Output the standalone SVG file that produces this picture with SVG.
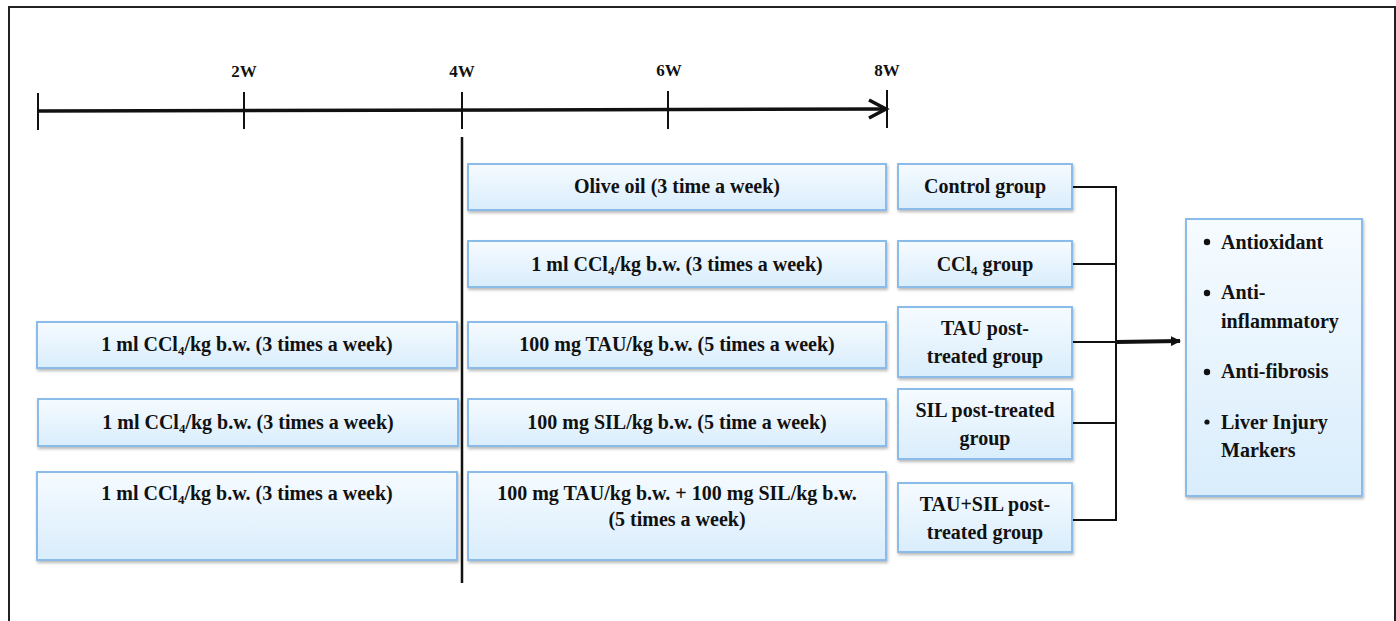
<svg xmlns="http://www.w3.org/2000/svg" width="1396" height="621" viewBox="0 0 1396 621">
<defs>
<linearGradient id="bf" x1="0" y1="0" x2="0" y2="1">
<stop offset="0" stop-color="#f6fbff"/>
<stop offset="1" stop-color="#d9edfc"/>
</linearGradient>
<filter id="sh" x="-5%" y="-10%" width="110%" height="130%">
<feDropShadow dx="1" dy="2" stdDeviation="1.5" flood-color="#000" flood-opacity="0.28"/>
</filter>
<marker id="ah" markerWidth="10" markerHeight="10" refX="9" refY="5" orient="auto" markerUnits="userSpaceOnUse">
<path d="M0,0 L10,5 L0,10 Z" fill="#111"/>
</marker>
</defs>
<style>
.box{fill:url(#bf);stroke:#8bbbe8;stroke-width:2;filter:url(#sh)}
text{font-family:'Liberation Serif','Times New Roman',Times,serif;font-weight:bold;fill:#111}
.t{font-size:20px;text-anchor:middle}
.tl{font-size:20px}
.wk{font-size:17px;text-anchor:middle}
.ln{stroke:#111;fill:none}
.sub{font-size:13px}
</style>
<rect x="0" y="0" width="1396" height="621" fill="#fff"/>
<rect x="9" y="7" width="1386" height="650" fill="none" stroke="#222" stroke-width="2"/>

<g id="timeline">
<line class="ln" x1="38" y1="111" x2="885" y2="109" stroke-width="3.5"/>
<polyline class="ln" points="869,100 886,109 869,118" stroke-width="3.5" stroke-linejoin="miter"/>
<line class="ln" x1="38" y1="93" x2="38" y2="130" stroke-width="2"/>
<line class="ln" x1="244" y1="92" x2="244" y2="129" stroke-width="2"/>
<line class="ln" x1="462" y1="92" x2="462" y2="129" stroke-width="2"/>
<line class="ln" x1="668" y1="91" x2="668" y2="129" stroke-width="2"/>
<line class="ln" x1="887" y1="90" x2="887" y2="128" stroke-width="2"/>
<text class="wk" x="244" y="77">2W</text>
<text class="wk" x="462" y="77">4W</text>
<text class="wk" x="669" y="76">6W</text>
<text class="wk" x="887" y="76">8W</text>
<line class="ln" x1="462" y1="137" x2="462" y2="583" stroke-width="2.5"/>
</g>

<g id="connectors">
<polyline class="ln" points="1072,187 1116,187 1116,520 1072,520" stroke-width="2"/>
<line class="ln" x1="1072" y1="264" x2="1116" y2="264" stroke-width="2"/>
<line class="ln" x1="1072" y1="342" x2="1116" y2="342" stroke-width="2"/>
<line class="ln" x1="1072" y1="423" x2="1116" y2="423" stroke-width="2"/>
<line class="ln" x1="1116" y1="342" x2="1180" y2="341" stroke-width="4" marker-end="url(#ah)"/>
</g>

<g id="olive">
<rect class="box" x="468" y="164" width="418" height="46"/>
<text class="t" x="677" y="193">Olive oil (3 time a week)</text>
</g>
<g id="ccl4-mid">
<rect class="box" x="468" y="241" width="418" height="46"/>
<text class="t" x="677" y="271">1 ml CCl<tspan class="sub" dy="4">4</tspan><tspan dy="-4">/kg b.w. (3 times a week)</tspan></text>
</g>
<g id="tau-mid">
<rect class="box" x="468" y="322" width="418" height="46"/>
<text class="t" x="677" y="351">100 mg TAU/kg b.w. (5 times a week)</text>
</g>
<g id="sil-mid">
<rect class="box" x="468" y="399" width="418" height="47"/>
<text class="t" x="677" y="429">100 mg SIL/kg b.w. (5 time a week)</text>
</g>
<g id="tausil-mid">
<rect class="box" x="468" y="472" width="418" height="88"/>
<text class="t" x="677" y="500">100 mg TAU/kg b.w. + 100 mg SIL/kg b.w.</text>
<text class="t" x="677" y="526">(5 times a week)</text>
</g>

<g id="ccl4-left-1">
<rect class="box" x="37" y="322" width="420" height="46"/>
<text class="t" x="247" y="351">1 ml CCl<tspan class="sub" dy="4">4</tspan><tspan dy="-4">/kg b.w. (3 times a week)</tspan></text>
</g>
<g id="ccl4-left-2">
<rect class="box" x="38" y="399" width="420" height="47"/>
<text class="t" x="248" y="429">1 ml CCl<tspan class="sub" dy="4">4</tspan><tspan dy="-4">/kg b.w. (3 times a week)</tspan></text>
</g>
<g id="ccl4-left-3">
<rect class="box" x="37" y="472" width="420" height="88"/>
<text class="t" x="247" y="500">1 ml CCl<tspan class="sub" dy="4">4</tspan><tspan dy="-4">/kg b.w. (3 times a week)</tspan></text>
</g>

<g id="control-group">
<rect class="box" x="898" y="164" width="174" height="45"/>
<text class="t" x="985" y="193">Control group</text>
</g>
<g id="ccl4-group">
<rect class="box" x="898" y="241" width="174" height="46"/>
<text class="t" x="985" y="271">CCl<tspan class="sub" dy="4">4</tspan><tspan dy="-4"> group</tspan></text>
</g>
<g id="tau-group">
<rect class="box" x="898" y="307" width="174" height="70"/>
<text class="t" x="985" y="335">TAU post-</text>
<text class="t" x="985" y="363">treated group</text>
</g>
<g id="sil-group">
<rect class="box" x="898" y="389" width="174" height="70"/>
<text class="t" x="985" y="417">SIL post-treated</text>
<text class="t" x="985" y="445">group</text>
</g>
<g id="tausil-group">
<rect class="box" x="898" y="483" width="174" height="69"/>
<text class="t" x="985" y="511">TAU+SIL post-</text>
<text class="t" x="985" y="539">treated group</text>
</g>

<g id="outcomes">
<rect class="box" x="1186" y="219" width="176" height="277"/>
<circle cx="1207" cy="242" r="3.2" fill="#111"/>
<text class="tl" x="1221" y="249">Antioxidant</text>
<circle cx="1207" cy="293" r="3.2" fill="#111"/>
<text class="tl" x="1221" y="299">Anti-</text>
<text class="tl" x="1221" y="328">inflammatory</text>
<circle cx="1207" cy="372" r="3.2" fill="#111"/>
<text class="tl" x="1221" y="378">Anti-fibrosis</text>
<circle cx="1207" cy="422" r="2.6" fill="#111"/>
<text class="tl" x="1221" y="429">Liver Injury</text>
<text class="tl" x="1221" y="457">Markers</text>
</g>
</svg>
